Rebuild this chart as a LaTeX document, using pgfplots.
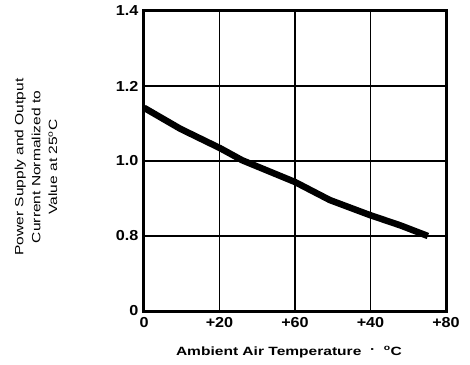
\documentclass[border=0pt]{standalone}
\usepackage{pgfplots}
\pgfplotsset{compat=1.18}
\usepackage{fontspec}
\setmainfont{Liberation Sans}
\newfontfamily\widefont[FakeStretch=1.3]{Liberation Sans}
\newfontfamily\tickfont[FakeStretch=1.12]{Liberation Sans}
\begin{document}
\begin{tikzpicture}
\begin{axis}[
  scale only axis,
  width=302bp, height=300bp,
  xmin=0, xmax=4, ymin=0, ymax=4,
  xtick={0,1,2,3,4},
  xticklabels={0,+20,\raisebox{-3bp}{+60},+40,+80},
  ytick={0,1,2,3,4},
  yticklabels={0,0.8,1.0,1.2,1.4},
  grid=major,
  major grid style={black, line width=1.4bp},
  major tick length=0pt,
  axis line style={black, line width=3bp},
  tick label style={font=\tickfont\fontsize{14.5}{16}\selectfont\bfseries},
  xticklabel style={yshift=-3bp},
  yticklabel style={xshift=-2bp},
  /pgf/number format/assume math mode=true,
  xlabel={Ambient Air Temperature\ \ \raisebox{0.3ex}{\textperiodcentered}\ \ \textsuperscript{o}C},
  xlabel style={font=\widefont\fontsize{12}{14}\selectfont\bfseries, at={(axis description cs:0.48,0)}, anchor=center, yshift=-41bp},
  ylabel={Power Supply and Output\\Current Normalized to\\Value at 25\textsuperscript{o}C},
  ylabel style={font=\widefont\fontsize{12}{17}\selectfont, align=center, at={(axis description cs:0,0.5)}, anchor=center, yshift=108bp, xshift=-6bp},
  clip=false,
]
\addplot[black, line width=6.5bp, line join=round] coordinates {
  (0,2.71) (0.48,2.43) (1.01,2.17) (1.30,2.01) (2.0,1.72) (2.46,1.48) (2.99,1.28) (3.4,1.14) (3.76,1.0)
};
\coordinate (sw) at (rel axis cs:0,0);
\end{axis}
\path (sw) ++(-144bp,-54bp) rectangle ++(470bp,365bp);
\end{tikzpicture}
\end{document}
